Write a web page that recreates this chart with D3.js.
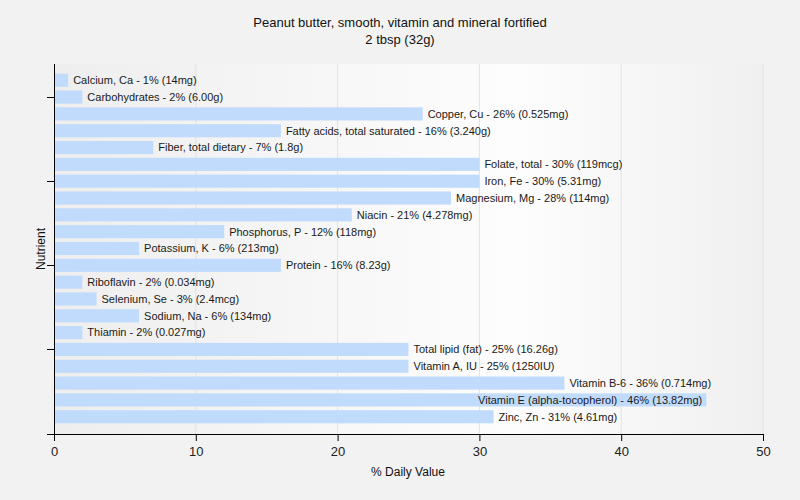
<!DOCTYPE html>
<html>
<head>
<meta charset="utf-8">
<script src="https://cdn.jsdelivr.net/npm/d3@7"></script>
<style>
body { margin:0; background:#f2f2f2; }
text { font-family: "Liberation Sans", Arial, sans-serif; }
</style>
</head>
<body>
<svg id="chart" width="800" height="500"></svg>
<script>
// nutrient names, % daily value and the amount shown in the label
var nutrients = ["Calcium, Ca","Carbohydrates","Copper, Cu","Fatty acids, total saturated","Fiber, total dietary",
    "Folate, total","Iron, Fe","Magnesium, Mg","Niacin","Phosphorus, P","Potassium, K","Protein","Riboflavin",
    "Selenium, Se","Sodium, Na","Thiamin","Total lipid (fat)","Vitamin A, IU","Vitamin B-6",
    "Vitamin E (alpha-tocopherol)","Zinc, Zn"];
var percents = [1,2,26,16,7,30,30,28,21,12,6,16,2,3,6,2,25,25,36,46,31];
var amounts = ["14mg","6.00g","0.525mg","3.240g","1.8g","119mcg","5.31mg","114mg","4.278mg","118mg","213mg",
    "8.23g","0.034mg","2.4mcg","134mg","0.027mg","16.26g","1250IU","0.714mg","13.82mg","4.61mg"];
var xTicks = [0,10,20,30,40,50];
var yTickNames = ["Carbohydrates","Iron, Fe","Protein","Total lipid (fat)"];

var svg = d3.select("#chart");
var plot = {left:54, right:763, top:64, bottom:434};

var xScale = d3.scaleLinear().domain([0,50]).range([plot.left,plot.right]);
var yScale = d3.scaleBand().domain(nutrients).range([72,425]).paddingInner(0.22).paddingOuter(0.1);

// plot background gradient
var defs = svg.append("defs");
var grad = defs.append("linearGradient").attr("id","bg").attr("x1","0").attr("x2","1").attr("y1","0").attr("y2","0");
grad.append("stop").attr("offset","0").attr("stop-color","#eeeeee");
grad.append("stop").attr("offset","0.65").attr("stop-color","#fdfdfd");
grad.append("stop").attr("offset","1").attr("stop-color","#f0f0f0");

svg.append("rect")
    .attr("x",plot.left).attr("y",plot.top)
    .attr("width",plot.right-plot.left).attr("height",plot.bottom-plot.top)
    .attr("fill","url(#bg)");

// vertical grid
svg.append("g").selectAll("line")
    .data(xTicks.slice(1))
    .enter().append("line")
    .attr("x1",function(d){ return xScale(d); })
    .attr("x2",function(d){ return xScale(d); })
    .attr("y1",plot.top).attr("y2",plot.bottom)
    .attr("stroke","#e2e2e2");

// bars
svg.append("g").selectAll("rect")
    .data(nutrients)
    .enter().append("rect")
    .attr("x",xScale(0)+1)
    .attr("y",function(d){ return yScale(d); })
    .attr("width",function(d,i){ return xScale(percents[i])-xScale(0)-1; })
    .attr("height",yScale.bandwidth())
    .attr("fill","#c0dbfb");

// labels, put inside the bar when they would run off the plot
svg.append("g").selectAll("text")
    .data(nutrients)
    .enter().append("text")
    .text(function(d,i){ return d+" - "+percents[i]+"% ("+amounts[i]+")"; })
    .attr("y",function(d){ return yScale(d)+yScale.bandwidth()/2; })
    .attr("dy","0.35em")
    .attr("font-size","11px")
    .attr("fill","#1a1a1a")
    .each(function(d,i){
        var w = this.getComputedTextLength();
        var end = xScale(percents[i]);
        if (end+5+w > plot.right) {
            d3.select(this).attr("x",end-4).attr("text-anchor","end");
        } else {
            d3.select(this).attr("x",end+5);
        }
    });

// x axis
var xAxis = d3.axisBottom(xScale).tickValues(xTicks).tickSize(7).tickSizeOuter(0);
var gx = svg.append("g").attr("transform","translate(0,"+plot.bottom+")").call(xAxis);
gx.select(".domain").attr("d","M47,0.5H"+plot.right);
gx.selectAll("text").attr("font-size","13px").attr("fill","#222").attr("font-family","\"Liberation Sans\", Arial, sans-serif").attr("dy","0.9em");

// y axis, ticks only at a few rows
var gy = svg.append("g").attr("transform","translate("+plot.left+",0)");
gy.append("line").attr("x1",0.5).attr("x2",0.5).attr("y1",plot.top).attr("y2",plot.bottom).attr("stroke","#000");
gy.selectAll(".tick")
    .data(yTickNames)
    .enter().append("line")
    .attr("x1",-7).attr("x2",0)
    .attr("y1",function(d){ return Math.round(yScale(d)+yScale.bandwidth()/2)+0.5; })
    .attr("y2",function(d){ return Math.round(yScale(d)+yScale.bandwidth()/2)+0.5; })
    .attr("stroke","#000");

// titles
svg.append("text").attr("x",400).attr("y",27).attr("text-anchor","middle")
    .attr("font-size","13px").attr("fill","#111")
    .text("Peanut butter, smooth, vitamin and mineral fortified");
svg.append("text").attr("x",400).attr("y",44).attr("text-anchor","middle")
    .attr("font-size","13px").attr("fill","#111")
    .text("2 tbsp (32g)");
svg.append("text").attr("x",408).attr("y",476).attr("text-anchor","middle")
    .attr("font-size","12px").attr("fill","#111")
    .text("% Daily Value");
svg.append("text").attr("transform","translate(45,249) rotate(-90)").attr("text-anchor","middle")
    .attr("font-size","12px").attr("fill","#111")
    .text("Nutrient");
</script>
</body>
</html>
